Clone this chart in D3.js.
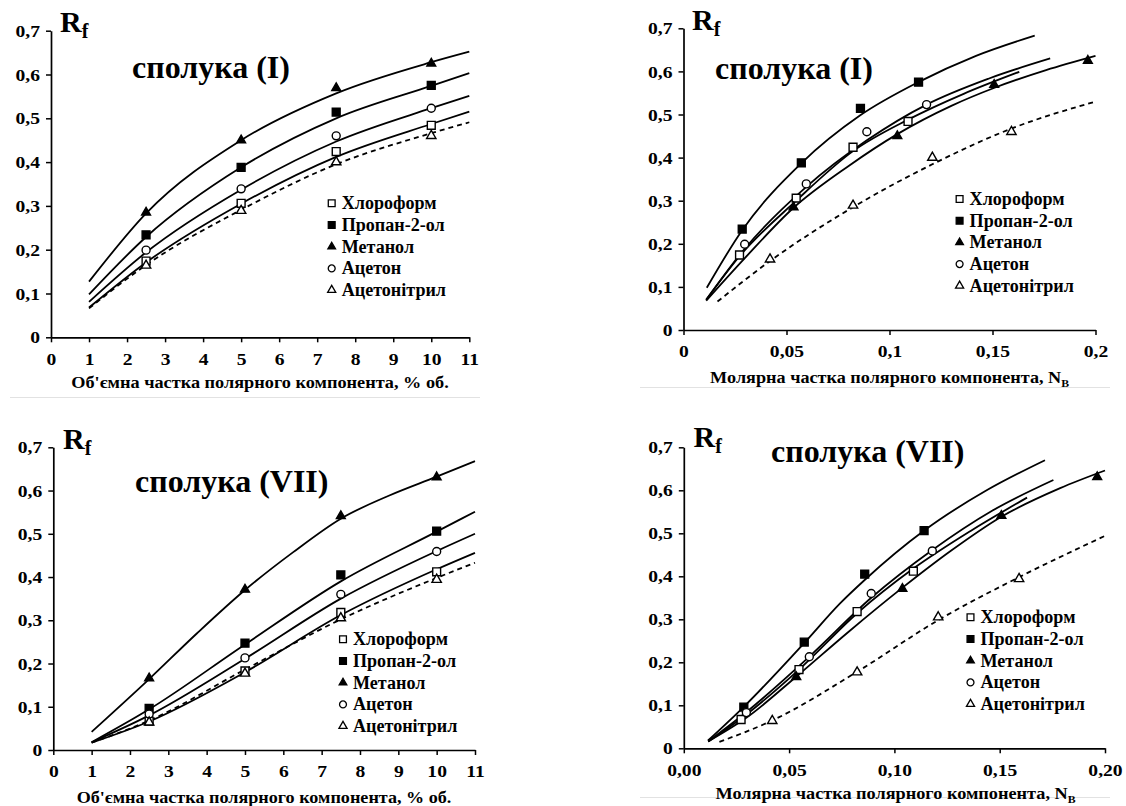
<!DOCTYPE html>
<html><head><meta charset="utf-8">
<script src="https://cdnjs.cloudflare.com/ajax/libs/d3/7.8.5/d3.min.js"></script>
<style>
body{margin:0;background:#fff;}
svg{display:block;}
svg text{font-family:"Liberation Serif","Times New Roman",serif;font-weight:bold;fill:#000;}
</style>
</head><body><svg id="c" width="1126" height="806"></svg>
<script>
// ---------- DATA ----------
const seriesNames = ["Хлороформ","Пропан-2-ол","Метанол","Ацетон","Ацетонітрил"];
const yTickValues = [0,0.1,0.2,0.3,0.4,0.5,0.6,0.7];
const yTickLabels = ["0","0,1","0,2","0,3","0,4","0,5","0,6","0,7"];
const volTickValues = [0,1,2,3,4,5,6,7,8,9,10,11];
const volTickLabels = ["0","1","2","3","4","5","6","7","8","9","10","11"];
const molTickValues = [0,0.05,0.1,0.15,0.2];
const molTickLabelsI = ["0","0,05","0,1","0,15","0,2"];
const molTickLabelsVII = ["0,00","0,05","0,10","0,15","0,20"];

// volume fraction of polar component, % vol.
const volX = [2.5,5,7.5,10];
// molar fraction of polar component N_B, per solvent
const molX_chloroform = [0.0272,0.0547,0.0823,0.109];
const molX_propanol = [0.0285,0.0572,0.0859,0.1141];
const molX_methanol = [0.0534,0.1038,0.1508,0.1963];
const molX_acetone = [0.0297,0.0596,0.089,0.118];
const molX_acetonitrile = [0.042,0.0823,0.1208,0.1592];

// Rf, compound (I)
const Rf_I_chloroform = [0.174,0.306,0.424,0.484];
const Rf_I_propanol = [0.234,0.388,0.514,0.575];
const Rf_I_methanol = [0.285,0.450,0.569,0.625];
const Rf_I_acetone = [0.199,0.339,0.460,0.523];
const Rf_I_acetonitrile = [0.164,0.289,0.400,0.460];
// Rf, compound (VII)
const Rf_VII_chloroform = [0.067,0.183,0.318,0.412];
const Rf_VII_propanol = [0.096,0.247,0.405,0.506];
const Rf_VII_methanol = [0.166,0.371,0.541,0.631];
const Rf_VII_acetone = [0.083,0.213,0.360,0.459];
const Rf_VII_acetonitrile = [0.064,0.177,0.305,0.394];

// trend curves [x, Rf]
const fit_I_vol_chloroform = [[1,0.068],[2.5,0.171],[5,0.305],[7.5,0.412],[10,0.487],[11,0.515]];
const fit_I_vol_propanol = [[1,0.098],[2.5,0.229],[5,0.388],[7.5,0.500],[10,0.574],[11,0.603]];
const fit_I_vol_methanol = [[1,0.127],[2.5,0.283],[5,0.450],[7.5,0.557],[10,0.628],[11,0.652]];
const fit_I_vol_acetone = [[1,0.081],[2.5,0.194],[5,0.337],[7.5,0.447],[10,0.523],[11,0.551]];
const fit_I_vol_acetonitrile = [[1,0.066],[2.5,0.165],[5,0.291],[7.5,0.395],[10,0.466],[11,0.491]];

const fit_I_mol_chloroform = [[0.011,0.07],[0.027,0.17],[0.0547,0.3],[0.0823,0.415],[0.109,0.488],[0.136,0.548],[0.163,0.599]];
const fit_I_mol_propanol = [[0.0113,0.098],[0.0284,0.231],[0.057,0.386],[0.0858,0.498],[0.114,0.575],[0.142,0.636],[0.1705,0.683]];
const fit_I_mol_methanol = [[0.011,0.068],[0.03,0.168],[0.0533,0.283],[0.08,0.38],[0.104,0.455],[0.13,0.52],[0.151,0.562],[0.176,0.603],[0.2,0.636]];
const fit_I_mol_acetone = [[0.011,0.07],[0.0296,0.188],[0.0596,0.332],[0.089,0.44],[0.118,0.523],[0.148,0.583],[0.178,0.63]];
const fit_I_mol_acetonitrile = [[0.0165,0.066],[0.042,0.16],[0.0823,0.285],[0.121,0.385],[0.159,0.467],[0.2,0.53]];

const fit_VII_vol_chloroform = [[1,0.017],[2.5,0.066],[5,0.18],[7.5,0.312],[10,0.418],[11,0.456]];
const fit_VII_vol_propanol = [[1,0.018],[2.5,0.094],[5,0.244],[7.5,0.39],[10,0.505],[11,0.551]];
const fit_VII_vol_methanol = [[1,0.042],[2.5,0.164],[3.75,0.27],[5,0.37],[6.25,0.457],[7.5,0.535],[8.75,0.588],[10,0.632],[11,0.668]];
const fit_VII_vol_acetone = [[1,0.018],[2.5,0.08],[5,0.211],[7.5,0.35],[10,0.46],[11,0.5]];
const fit_VII_vol_acetonitrile = [[1,0.017],[2.5,0.068],[5,0.186],[7.5,0.302],[10,0.398],[11,0.433]];

const fit_VII_mol_chloroform = [[0.0116,0.016],[0.0274,0.07],[0.0547,0.183],[0.0823,0.314],[0.109,0.418],[0.136,0.505],[0.163,0.583]];
const fit_VII_mol_propanol = [[0.0115,0.018],[0.0286,0.097],[0.0574,0.246],[0.0742,0.337],[0.086,0.392],[0.1143,0.507],[0.1438,0.6],[0.1715,0.67]];
const fit_VII_mol_methanol = [[0.0116,0.016],[0.03,0.072],[0.0535,0.167],[0.078,0.27],[0.1037,0.373],[0.127,0.46],[0.1506,0.538],[0.1787,0.605],[0.2,0.646]];
const fit_VII_mol_acetone = [[0.0116,0.016],[0.0299,0.085],[0.06,0.215],[0.089,0.35],[0.1177,0.46],[0.1466,0.553],[0.1755,0.624]];
const fit_VII_mol_acetonitrile = [[0.0169,0.015],[0.0417,0.064],[0.0823,0.178],[0.1208,0.298],[0.1592,0.398],[0.2,0.494]];

// ---------- STYLE (per series order) ----------
const markerType = [d3.symbolSquare,d3.symbolSquare,d3.symbolTriangle,d3.symbolCircle,d3.symbolTriangle];
const markerFill = ["#fff","#000","#000","#fff","#fff"];
const markerSize = [62,62,34,50,38];
const dashed = [false,false,false,false,true];
const FONT = '"Liberation Serif","Times New Roman",serif';
const TICK_STRETCH = 1.12;

const svg = d3.select("#c");

// faint table borders visible in the scan
const faint = svg.append("g").attr("stroke","#e2e2e2").attr("stroke-width",1);
faint.append("line").attr("x1",10).attr("x2",480).attr("y1",397.5).attr("y2",397.5);
faint.append("line").attr("x1",640).attr("x2",1110).attr("y1",387.5).attr("y2",387.5);
faint.append("line").attr("x1",640).attr("x2",1110).attr("y1",797.5).attr("y2",797.5);

function stretchedText(parent, x, y, anchor, size, build, targetW) {
  const g = parent.append("g");
  const t = g.append("text").attr("x",0).attr("y",0).attr("text-anchor",anchor)
    .style("font-family",FONT).style("font-weight","bold").style("font-size",size+"px");
  build(t);
  const w = t.node().getBBox().width;
  const f = (targetW && w > 0) ? targetW / w : 1;
  g.attr("transform",`translate(${x},${y}) scale(${f},1)`);
  return f;
}

const panels = [
  { x0:51, x1:469.3, y0:337.3, y1:30.7, xmax:11, xt:volTickValues, xl:volTickLabels,
    xs:[volX,volX,volX,volX,volX],
    ys:[Rf_I_chloroform,Rf_I_propanol,Rf_I_methanol,Rf_I_acetone,Rf_I_acetonitrile],
    fits:[fit_I_vol_chloroform,fit_I_vol_propanol,fit_I_vol_methanol,fit_I_vol_acetone,fit_I_vol_acetonitrile],
    title:"сполука (I)", titleX:132, titleY:78, rfX:60, rfY:31.5,
    legX:331.7, legY:203.3, xTitle:"Об'ємна частка полярного компонента, % об.", xTitleX:260, xTitleY:387.5, xTitleW:378, sub:null },
  { x0:683.5, x1:1095.5, y0:330, y1:28.3, xmax:0.2, xt:molTickValues, xl:molTickLabelsI,
    xs:[molX_chloroform,molX_propanol,molX_methanol,molX_acetone,molX_acetonitrile],
    ys:[Rf_I_chloroform,Rf_I_propanol,Rf_I_methanol,Rf_I_acetone,Rf_I_acetonitrile],
    fits:[fit_I_mol_chloroform,fit_I_mol_propanol,fit_I_mol_methanol,fit_I_mol_acetone,fit_I_mol_acetonitrile],
    title:"сполука (I)", titleX:715, titleY:79, rfX:692, rfY:30,
    legX:959.6, legY:199, xTitle:"Молярна частка полярного компонента, N", xTitleX:889.6, xTitleY:382.5, xTitleW:360, sub:"B" },
  { x0:53.3, x1:475, y0:750, y1:447.3, xmax:11, xt:volTickValues, xl:volTickLabels,
    xs:[volX,volX,volX,volX,volX],
    ys:[Rf_VII_chloroform,Rf_VII_propanol,Rf_VII_methanol,Rf_VII_acetone,Rf_VII_acetonitrile],
    fits:[fit_VII_vol_chloroform,fit_VII_vol_propanol,fit_VII_vol_methanol,fit_VII_vol_acetone,fit_VII_vol_acetonitrile],
    title:"сполука (VII)", titleX:135, titleY:491.5, rfX:63, rfY:449.3,
    legX:343, legY:639.3, xTitle:"Об'ємна частка полярного компонента, % об.", xTitleX:264, xTitleY:802.5, xTitleW:375, sub:null },
  { x0:683.8, x1:1105, y0:748.3, y1:447.3, xmax:0.2, xt:molTickValues, xl:molTickLabelsVII,
    xs:[molX_chloroform,molX_propanol,molX_methanol,molX_acetone,molX_acetonitrile],
    ys:[Rf_VII_chloroform,Rf_VII_propanol,Rf_VII_methanol,Rf_VII_acetone,Rf_VII_acetonitrile],
    fits:[fit_VII_mol_chloroform,fit_VII_mol_propanol,fit_VII_mol_methanol,fit_VII_mol_acetone,fit_VII_mol_acetonitrile],
    title:"сполука (VII)", titleX:771, titleY:461.5, rfX:693.6, rfY:446.7,
    legX:970.5, legY:617.3, xTitle:"Молярна частка полярного компонента, N", xTitleX:895.5, xTitleY:799, xTitleW:361, sub:"B" }
];

// legend stretch factor: the reference's "Хлороформ" is ~95 px wide
let legendFactor = 1;
{
  const probe = svg.append("text").style("font-family",FONT).style("font-weight","bold").style("font-size","18px").text(seriesNames[0]);
  const w = probe.node().getBBox().width;
  legendFactor = w > 0 ? Math.min(1.45, Math.max(1, 95 / w)) : 1;
  probe.remove();
}

panels.forEach(p => {
  const x = d3.scaleLinear().domain([0,p.xmax]).range([p.x0,p.x1]);
  const y = d3.scaleLinear().domain([0,0.7]).range([p.y0,p.y1]);
  const g = svg.append("g");

  // axes
  const ax = g.append("g").attr("transform",`translate(0,${p.y0})`)
    .call(d3.axisBottom(x).tickValues(p.xt).tickFormat((d,i)=>p.xl[i]).tickSize(5).tickSizeOuter(0).tickPadding(10));
  const ay = g.append("g").attr("transform",`translate(${p.x0},0)`)
    .call(d3.axisLeft(y).tickValues(yTickValues).tickFormat((d,i)=>yTickLabels[i]).tickSize(5).tickSizeOuter(0).tickPadding(6));
  [ax,ay].forEach(a=>{
    a.attr("font-family",null).attr("font-size",null);
    a.selectAll("path.domain").attr("stroke","#000").attr("stroke-width",1.7);
    a.selectAll(".tick line").attr("stroke","#000").attr("stroke-width",1.5);
    a.selectAll("text").attr("fill","#000").style("font-family",FONT).style("font-weight","bold")
      .style("font-size","17.5px").attr("transform",`scale(${TICK_STRETCH},1)`);
  });
  // keep y labels right-aligned at the same gap after stretching
  ay.selectAll("text").attr("x", -11 / TICK_STRETCH);

  // curves
  const line = d3.line().x(d=>x(d[0])).y(d=>y(d[1])).curve(d3.curveMonotoneX);
  p.fits.forEach((f,i)=>{
    g.append("path").attr("d",line(f)).attr("fill","none").attr("stroke","#000")
      .attr("stroke-width",1.8).attr("stroke-dasharray",dashed[i]?"5,4":null);
  });

  // markers
  p.ys.forEach((vals,i)=>{
    const sym = d3.symbol().type(markerType[i]).size(markerSize[i]);
    g.selectAll(null).data(vals.map((v,k)=>[p.xs[i][k],v])).enter().append("path")
      .attr("d",sym).attr("transform",d=>`translate(${x(d[0])},${y(d[1])})`)
      .attr("fill",markerFill[i]).attr("stroke","#000").attr("stroke-width",1.4);
  });

  // Rf label
  const rf = g.append("text").attr("x",p.rfX).attr("y",p.rfY).style("font-family",FONT).style("font-weight","bold").style("font-size","30px");
  rf.append("tspan").text("R");
  rf.append("tspan").attr("dy",6).style("font-size","20px").text("f");

  // title
  g.append("text").attr("x",p.titleX).attr("y",p.titleY).style("font-family",FONT).style("font-weight","bold").style("font-size","32px").text(p.title);

  // legend
  seriesNames.forEach((n,i)=>{
    const cy = p.legY + i*21.7;
    const sym = d3.symbol().type(markerType[i]).size(markerSize[i]*0.75);
    g.append("path").attr("d",sym).attr("transform",`translate(${p.legX},${cy})`)
      .attr("fill",markerFill[i]).attr("stroke","#000").attr("stroke-width",1.3);
    const tg = g.append("g").attr("transform",`translate(${p.legX+10},${cy+6}) scale(${legendFactor},1)`);
    tg.append("text").attr("x",0).attr("y",0).style("font-family",FONT).style("font-weight","bold").style("font-size","18px").text(n);
  });

  // x title
  stretchedText(g, p.xTitleX, p.xTitleY, "middle", 17, t=>{
    t.append("tspan").text(p.xTitle);
    if (p.sub) t.append("tspan").attr("dy",4).style("font-size","11px").text(p.sub);
  }, p.xTitleW);
});
</script>
</body></html>
